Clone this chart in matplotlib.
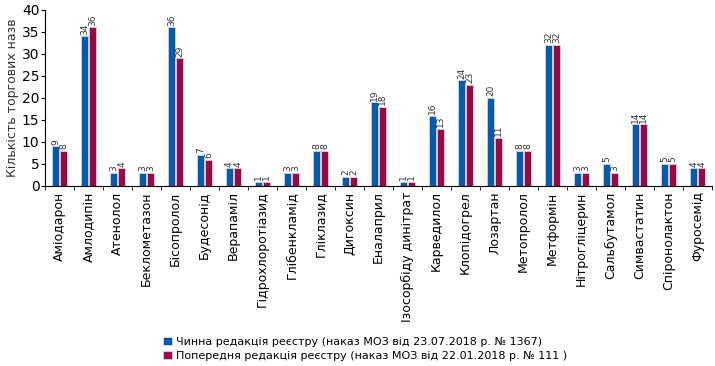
import matplotlib.pyplot as plt
import numpy as np

drugs = ['Аміодарон', 'Амлодипін', 'Атенолол', 'Беклометазон', 'Бісопролол',
         'Будесонід', 'Верапаміл', 'Гідрохлоротіазид', 'Глібенкламід', 'Гліклазид',
         'Дигоксин', 'Еналаприл', 'Ізосорбіду динітрат', 'Карведилол', 'Клопідогрел',
         'Лозартан', 'Метопролол', 'Метформін', 'Нітрогліцерин', 'Сальбутамол',
         'Симвастатин', 'Спіронолактон', 'Фуросемід']
current = [9, 34, 3, 3, 36, 7, 4, 1, 3, 8, 2, 19, 1, 16, 24, 20, 8, 32, 3, 5, 14, 5, 4]
previous = [8, 36, 4, 3, 29, 6, 4, 1, 3, 8, 2, 18, 1, 13, 23, 11, 8, 32, 3, 3, 14, 5, 4]
yticks = [0, 5, 10, 15, 20, 25, 30, 35, 40]

label_cur = 'Чинна редакція реєстру (наказ МОЗ від 23.07.2018 р. № 1367)'
label_prev = 'Попередня редакція реєстру (наказ МОЗ від 22.01.2018 р. № 111 )'

blue = '#005DAE'
red = '#970A45'

fig = plt.figure(figsize=(7.15, 3.66), dpi=100)
ax = fig.add_axes([0.063, 0.492, 0.933, 0.481])

x = np.arange(len(drugs))
w = 0.25
off = 0.14
b1 = ax.bar(x - off, current, w, color=blue, edgecolor='#d9d0dc', linewidth=0.6, label=label_cur)
b2 = ax.bar(x + off, previous, w, color=red, edgecolor='#d9d0dc', linewidth=0.6, label=label_prev)

for bars, vals in ((b1, current), (b2, previous)):
    for r, v in zip(bars, vals):
        ax.text(r.get_x() + r.get_width() / 2, v + 0.4, str(v), rotation=90,
                ha='center', va='bottom', fontsize=6.5, color='#333333')

ax.set_xlim(-0.5, len(drugs) - 0.5)
ax.set_ylim(0, 40)
ax.set_yticks(yticks)
ax.tick_params(axis='y', labelsize=10, length=3, pad=1)
ax.set_xticks(x)
ax.set_xticklabels(drugs, rotation=90, fontsize=9)
ax.tick_params(axis='x', length=0, pad=4)
ax.set_xticks(np.arange(len(drugs) + 1) - 0.5, minor=True)
ax.tick_params(axis='x', which='minor', length=3)
ax.spines['top'].set_visible(False)
ax.spines['right'].set_visible(False)
ax.set_ylabel('Кількість торгових назв', fontsize=9, labelpad=2, color='#333333')

fig.legend(handles=[b1, b2], loc='lower left', bbox_to_anchor=(0.215, -0.01),
           frameon=False, fontsize=8, handlelength=0.8, handleheight=0.8,
           handletextpad=0.4, labelspacing=0.35, borderpad=0.3)

fig.savefig('out.png', dpi=100)
